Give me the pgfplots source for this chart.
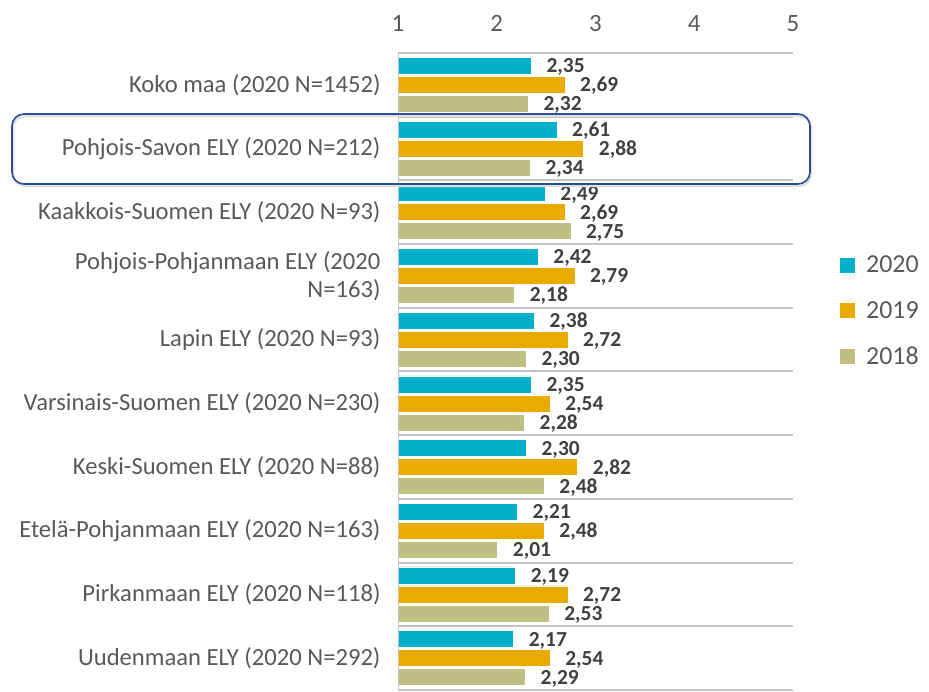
\documentclass[border=0pt]{standalone}
\usepackage{fontspec}
\setmainfont{Carlito}
\usepackage{pgfplots}
\usepackage{pgfplotstable}
\pgfplotsset{compat=1.18}
\definecolor{c20}{RGB}{0,176,202}
\definecolor{c19}{RGB}{234,171,0}
\definecolor{c18}{RGB}{191,191,131}
\definecolor{txt}{RGB}{89,89,89}
\definecolor{lab}{RGB}{64,64,64}
\definecolor{gridc}{RGB}{196,196,196}
\definecolor{boxc}{RGB}{40,80,150}

\pgfplotstableread{
y v20 v19 v18
9 2.35 2.69 2.32
8 2.61 2.88 2.34
7 2.49 2.69 2.75
6 2.42 2.79 2.18
5 2.38 2.72 2.30
4 2.35 2.54 2.28
3 2.30 2.82 2.48
2 2.21 2.48 2.01
1 2.19 2.72 2.53
0 2.17 2.54 2.29
}\data

\begin{document}
\begin{tikzpicture}[x=1bp,y=1bp]
\useasboundingbox (0,0) rectangle (929,692);
\begin{axis}[
  at={(398bp,2bp)}, anchor=south west, scale only axis,
  width=395bp, height=637bp,
  xmin=1, xmax=5, ymin=-0.5, ymax=9.5,
  xbar, bar width=17bp,
  axis line style={draw=none},
  xtick={1,2,3,4,5}, xticklabel pos=upper, major tick length=0pt,
  xticklabel style={font=\fontsize{25}{25}\selectfont, text=txt, yshift=18bp},
  /pgf/number format/assume math mode=true,
  ytick={0,...,9},
  yticklabels={
    {Uudenmaan ELY (2020 N=292)},
    {Pirkanmaan ELY (2020 N=118)},
    {Etelä-Pohjanmaan ELY (2020 N=163)},
    {Keski-Suomen ELY (2020 N=88)},
    {Varsinais-Suomen ELY (2020 N=230)},
    {Lapin ELY (2020 N=93)},
    {Pohjois-Pohjanmaan ELY (2020\\N=163)},
    {Kaakkois-Suomen ELY (2020 N=93)},
    {Pohjois-Savon ELY (2020 N=212)},
    {Koko maa (2020 N=1452)}},
  yticklabel style={font=\fontsize{24.7}{28}\selectfont, text=txt, align=right, xshift=-14bp},
  minor ytick={-0.5,0.5,...,9.5}, yminorgrids,
  minor grid style={gridc, line width=2bp},
  minor tick length=0pt,
  point meta=x,
  nodes near coords={\pgfmathprintnumber[fixed,fixed zerofill,precision=2,use comma,assume math mode=true]{\pgfplotspointmeta}},
  nodes near coords style={font=\bfseries\fontsize{21.5}{21.5}\selectfont, text=lab, anchor=base west, inner sep=0pt, xshift=15bp, yshift=-7bp},
  legend style={at={(1.119,0.595)}, anchor=west, draw=none, fill=none,
    font=\fontsize{26}{26}\selectfont, text=txt, row sep=23bp, inner sep=0pt,
    /tikz/every odd column/.append style={column sep=9bp}},
  legend cell align=left,
  legend image code/.code={\fill[#1,draw=none] (0bp,-7.5bp) rectangle (15bp,7.5bp);},
]
\addplot[fill=c20, draw=white, line width=0.5bp, bar shift=19bp] table[x=v20,y=y]{\data};
\addplot[fill=c19, draw=white, line width=0.5bp, bar shift=0bp] table[x=v19,y=y]{\data};
\addplot[fill=c18, draw=white, line width=0.5bp, bar shift=-19bp] table[x=v18,y=y]{\data};
\legend{2020,2019,2018}
\draw[gridc, line width=1bp] (axis cs:1,-0.5) -- (axis cs:1,9.5);
\end{axis}
\draw[black!12, line width=2.5bp, rounded corners=12bp] (13,506) rectangle (811,576);
\draw[boxc, line width=1.6bp, rounded corners=12bp] (12,508) rectangle (810,578);
\end{tikzpicture}
\end{document}
